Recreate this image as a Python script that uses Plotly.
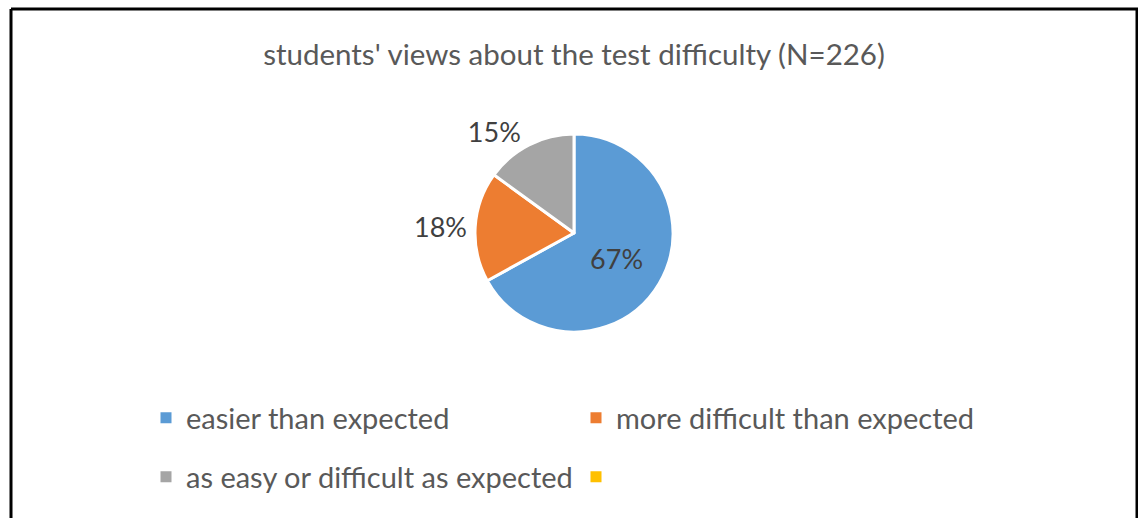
import plotly.graph_objects as go

title_text = "students' views about the test difficulty (N=226)"
labels = ["easier than expected", "more difficult than expected",
          "as easy or difficult as expected", ""]
values = [67, 18, 15, 0]
colors = ["#5B9BD5", "#ED7D31", "#A5A5A5", "#FFC000"]
legend_rows = ["legend", "legend", "legend2", "legend2"]

W, H = 1138, 518
FONT = "Lato"

fig = go.Figure()

# pie (only non-zero slices drawn)
n = 3
fig.add_trace(go.Pie(
    labels=labels[:n], values=values[:n],
    marker=dict(colors=colors[:n], line=dict(color="white", width=3)),
    sort=False, direction="clockwise", rotation=0,
    texttemplate="%{percent:.0%}",
    textposition=["inside", "outside", "outside"],
    textfont=dict(family=FONT, size=27, color="#404040"),
    insidetextfont=dict(family=FONT, size=27, color="#404040"),
    outsidetextfont=dict(family=FONT, size=27, color="#404040"),
    showlegend=False, hoverinfo="label+percent",
    domain=dict(x=[(574 - 99) / W, (574 + 99) / W],
                y=[1 - (233 + 100) / H, 1 - (233 - 100) / H]),
))

# legend entries
for lab, col, lg in zip(labels, colors, legend_rows):
    fig.add_trace(go.Scatter(
        x=[None], y=[None], mode="markers", name=lab if lab else " ",
        marker=dict(symbol="square", size=11, color=col),
        legend=lg, showlegend=True,
    ))

legend_common = dict(
    orientation="h", entrywidth=385, entrywidthmode="pixels",
    font=dict(family=FONT, size=29, color="#595959"),
    bgcolor="rgba(0,0,0,0)", xanchor="left", yanchor="middle",
    itemclick=False, itemdoubleclick=False,
)

fig.update_layout(
    width=W, height=H,
    margin=dict(l=0, r=0, t=0, b=0),
    paper_bgcolor="white", plot_bgcolor="white",
    title=dict(text=title_text, x=574 / W, xanchor="center",
               y=1 - 55 / H, yanchor="middle",
               font=dict(family=FONT, size=29.5, color="#595959")),
    xaxis=dict(visible=False), yaxis=dict(visible=False),
    legend=dict(x=146 / W, y=1 - 418 / H, **legend_common),
    legend2=dict(x=146 / W, y=1 - 477 / H, **legend_common),
    shapes=[
        dict(type="line", xref="paper", yref="paper",
             x0=11 / W, x1=11 / W, y0=0, y1=1 - 9 / H,
             line=dict(color="black", width=3)),
        dict(type="line", xref="paper", yref="paper",
             x0=11 / W, x1=1, y0=1 - 9 / H, y1=1 - 9 / H,
             line=dict(color="black", width=3)),
        dict(type="line", xref="paper", yref="paper",
             x0=1137 / W, x1=1137 / W, y0=0, y1=1 - 9 / H,
             line=dict(color="black", width=3)),
    ],
)

fig.write_html("out.html",
               config=dict(displayModeBar=False),
               post_script="document.body.style.margin='0';"
                           "document.body.style.overflow='hidden';")
